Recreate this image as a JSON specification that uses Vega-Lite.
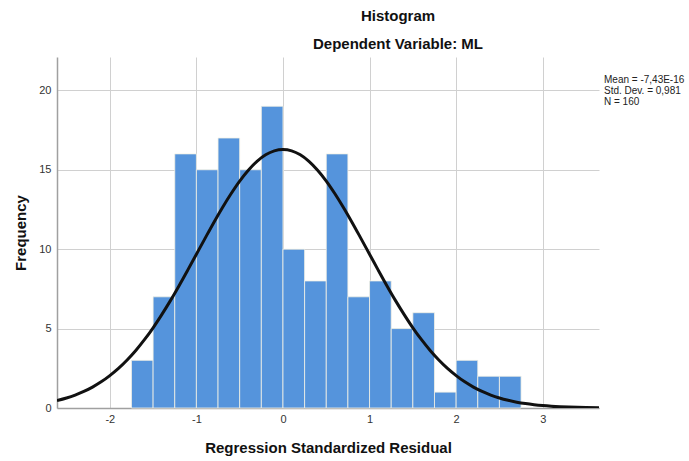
{
  "$schema": "https://vega.github.io/schema/vega-lite/v6.json",
  "autosize": {"type": "none"},
  "width": 542,
  "height": 351,
  "padding": {"left": 57, "top": 57, "right": 90, "bottom": 53},
  "background": "white",
  "config": {
    "font": "Liberation Sans",
    "view": {"stroke": null},
    "axis": {
      "gridColor": "#d0d0d0",
      "gridWidth": 1,
      "domainColor": "#a0a0a0",
      "domainWidth": 1.5,
      "tickSize": 0,
      "labelFont": "Liberation Sans",
      "labelFontSize": 11,
      "labelColor": "#333333",
      "titleFont": "Liberation Sans",
      "titleFontSize": 15,
      "titleFontWeight": "bold",
      "titleColor": "#111111"
    }
  },
  "title": {
    "text": ["Histogram", "Dependent Variable: ML"],
    "anchor": "middle",
    "frame": "group",
    "dx": 70,
    "font": "Liberation Sans",
    "fontSize": 15,
    "fontWeight": "bold",
    "color": "#111111",
    "lineHeight": 28.5,
    "offset": 5
  },
  "datasets": {
    "bins": [
      {"bin_start": -1.75, "bin_end": -1.5, "count": 3},
      {"bin_start": -1.5, "bin_end": -1.25, "count": 7},
      {"bin_start": -1.25, "bin_end": -1.0, "count": 16},
      {"bin_start": -1.0, "bin_end": -0.75, "count": 15},
      {"bin_start": -0.75, "bin_end": -0.5, "count": 17},
      {"bin_start": -0.5, "bin_end": -0.25, "count": 15},
      {"bin_start": -0.25, "bin_end": 0.0, "count": 19},
      {"bin_start": 0.0, "bin_end": 0.25, "count": 10},
      {"bin_start": 0.25, "bin_end": 0.5, "count": 8},
      {"bin_start": 0.5, "bin_end": 0.75, "count": 16},
      {"bin_start": 0.75, "bin_end": 1.0, "count": 7},
      {"bin_start": 1.0, "bin_end": 1.25, "count": 8},
      {"bin_start": 1.25, "bin_end": 1.5, "count": 5},
      {"bin_start": 1.5, "bin_end": 1.75, "count": 6},
      {"bin_start": 1.75, "bin_end": 2.0, "count": 1},
      {"bin_start": 2.0, "bin_end": 2.25, "count": 3},
      {"bin_start": 2.25, "bin_end": 2.5, "count": 2},
      {"bin_start": 2.5, "bin_end": 2.75, "count": 2}
    ],
    "curve": [
      {"residual": -2.61, "frequency": 0.47},
      {"residual": -2.5, "frequency": 0.632},
      {"residual": -2.4, "frequency": 0.816},
      {"residual": -2.3, "frequency": 1.041},
      {"residual": -2.2, "frequency": 1.316},
      {"residual": -2.1, "frequency": 1.645},
      {"residual": -2.0, "frequency": 2.04},
      {"residual": -1.9, "frequency": 2.49},
      {"residual": -1.8, "frequency": 3.02},
      {"residual": -1.7, "frequency": 3.62},
      {"residual": -1.6, "frequency": 4.30},
      {"residual": -1.5, "frequency": 5.05},
      {"residual": -1.4, "frequency": 5.88},
      {"residual": -1.3, "frequency": 6.76},
      {"residual": -1.2, "frequency": 7.70},
      {"residual": -1.1, "frequency": 8.68},
      {"residual": -1.0, "frequency": 9.68},
      {"residual": -0.9, "frequency": 10.68},
      {"residual": -0.8, "frequency": 11.67},
      {"residual": -0.7, "frequency": 12.61},
      {"residual": -0.6, "frequency": 13.49},
      {"residual": -0.5, "frequency": 14.29},
      {"residual": -0.4, "frequency": 14.97},
      {"residual": -0.3, "frequency": 15.53},
      {"residual": -0.2, "frequency": 15.94},
      {"residual": -0.1, "frequency": 16.19},
      {"residual": 0.0, "frequency": 16.27},
      {"residual": 0.1, "frequency": 16.19},
      {"residual": 0.2, "frequency": 15.94},
      {"residual": 0.3, "frequency": 15.53},
      {"residual": 0.4, "frequency": 14.97},
      {"residual": 0.5, "frequency": 14.29},
      {"residual": 0.6, "frequency": 13.49},
      {"residual": 0.7, "frequency": 12.61},
      {"residual": 0.8, "frequency": 11.67},
      {"residual": 0.9, "frequency": 10.68},
      {"residual": 1.0, "frequency": 9.68},
      {"residual": 1.1, "frequency": 8.68},
      {"residual": 1.2, "frequency": 7.70},
      {"residual": 1.3, "frequency": 6.76},
      {"residual": 1.4, "frequency": 5.88},
      {"residual": 1.5, "frequency": 5.05},
      {"residual": 1.6, "frequency": 4.30},
      {"residual": 1.7, "frequency": 3.62},
      {"residual": 1.8, "frequency": 3.02},
      {"residual": 1.9, "frequency": 2.49},
      {"residual": 2.0, "frequency": 2.04},
      {"residual": 2.1, "frequency": 1.645},
      {"residual": 2.2, "frequency": 1.316},
      {"residual": 2.3, "frequency": 1.041},
      {"residual": 2.4, "frequency": 0.816},
      {"residual": 2.5, "frequency": 0.632},
      {"residual": 2.6, "frequency": 0.485},
      {"residual": 2.7, "frequency": 0.368},
      {"residual": 2.8, "frequency": 0.277},
      {"residual": 2.9, "frequency": 0.206},
      {"residual": 3.0, "frequency": 0.151},
      {"residual": 3.1, "frequency": 0.110},
      {"residual": 3.2, "frequency": 0.0795},
      {"residual": 3.3, "frequency": 0.0568},
      {"residual": 3.4, "frequency": 0.0401},
      {"residual": 3.5, "frequency": 0.028},
      {"residual": 3.65, "frequency": 0.016}
    ],
    "stats": [
      {"label": "Mean = -7,43E-16", "order": 1},
      {"label": "Std. Dev. = 0,981", "order": 2},
      {"label": "N = 160", "order": 3}
    ]
  },
  "layer": [
    {
      "data": {"name": "bins"},
      "mark": {"type": "bar", "color": "#5594DC", "stroke": "#f4f1e4", "strokeWidth": 0.8},
      "encoding": {
        "x": {
          "field": "bin_start",
          "type": "quantitative",
          "scale": {"domain": [-2.61, 3.65], "nice": false, "zero": false},
          "axis": {
            "values": [-2, -1, 0, 1, 2, 3],
            "labelExpr": "'' + datum.value",
            "title": "Regression Standardized Residual",
            "titlePadding": 16,
            "labelPadding": 5,
            "grid": true,
            "labelFlush": false
          }
        },
        "x2": {"field": "bin_end"},
        "y": {
          "field": "count",
          "type": "quantitative",
          "scale": {"domain": [0, 22.1], "nice": false},
          "axis": {
            "values": [0, 5, 10, 15, 20],
            "title": "Frequency",
            "titlePadding": 10,
            "labelPadding": 6,
            "grid": true
          }
        },
        "y2": {"datum": 0}
      }
    },
    {
      "data": {"name": "curve"},
      "mark": {"type": "line", "color": "#111111", "strokeWidth": 3, "interpolate": "monotone", "clip": true},
      "encoding": {
        "x": {"field": "residual", "type": "quantitative"},
        "y": {"field": "frequency", "type": "quantitative"}
      }
    },
    {
      "data": {"name": "stats"},
      "mark": {"type": "point", "opacity": 0},
      "encoding": {
        "color": {
          "field": "label",
          "type": "nominal",
          "sort": {"field": "order"},
          "legend": {
            "title": null,
            "orient": "none",
            "legendX": 537,
            "legendY": 17.5,
            "padding": 0,
            "rowPadding": 1,
            "symbolSize": 0,
            "symbolStrokeWidth": 0,
            "symbolOpacity": 0,
            "labelOffset": 0,
            "labelFont": "Liberation Sans",
            "labelFontSize": 10,
            "labelColor": "#222222",
            "labelLimit": 200
          }
        }
      }
    }
  ]
}
